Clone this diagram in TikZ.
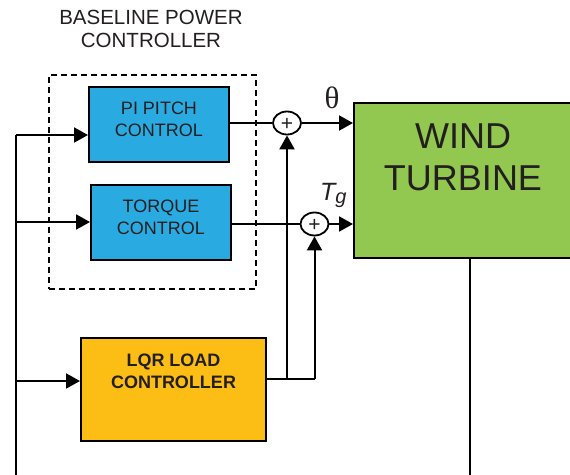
\documentclass[tikz,border=0pt]{standalone}
\usepackage{fontspec}
\setmainfont{Liberation Sans}
\newfontfamily\serifgr{Liberation Serif}
\usetikzlibrary{arrows.meta,shapes.geometric}
\definecolor{bluebox}{RGB}{41,171,226}
\definecolor{greenbox}{RGB}{146,200,80}
\definecolor{yellowbox}{RGB}{252,190,20}
\definecolor{txt}{RGB}{35,31,32}
\tikzset{
  blk/.style={draw=black,line width=2pt,inner sep=0pt},
  lbl/.style={text=txt,align=center,inner sep=0pt,font=\fontsize{18}{22}\selectfont},
  wire/.style={line width=2pt,draw=black},
  arr/.style={wire,-{Triangle[length=14pt,width=15pt]}},
  sumnode/.style={ellipse,draw=black,line width=1.8pt,fill=white,minimum width=28pt,minimum height=23pt,inner sep=0pt},
  plus/.style={text=txt,inner sep=0pt,font=\fontsize{21}{21}\selectfont}
}
\begin{document}
\begin{tikzpicture}[x=1pt,y=-1pt]
\useasboundingbox (0,0) rectangle (570,474);
% title
\node[lbl,font=\fontsize{20.5}{23}\selectfont] (title) at (151,28.5) {BASELINE POWER\\CONTROLLER};
% dashed box
\node[draw=black,line width=1.5pt,dash pattern=on 6pt off 4pt,minimum width=207pt,minimum height=214pt,inner sep=0pt] (base) at (152.5,182) {};
% blocks
\node[blk,fill=bluebox,minimum width=140pt,minimum height=75pt] (pi) at (159,124.5) {};
\node[lbl] (pit) at (159,119) {PI PITCH\\CONTROL};
\node[blk,fill=bluebox,minimum width=140pt,minimum height=75pt] (tq) at (161,222.5) {};
\node[lbl] (tqt) at (161,217) {TORQUE\\CONTROL};
\node[blk,fill=yellowbox,minimum width=185pt,minimum height=103pt] (lqr) at (173.5,389.5) {};
\node[lbl,font=\fontsize{18}{22}\bfseries\selectfont] (lqrt) at (173.5,371) {LQR LOAD\\CONTROLLER};
\node[blk,fill=greenbox,minimum width=220pt,minimum height=155pt] (wt) at (464,180.5) {};
\node[lbl,font=\fontsize{36}{42}\selectfont] (wtt) at (463,157) {WIND\\TURBINE};
% sums
\node[sumnode] (s1) at (287,123) {};
\node[plus] (p1) at (287,124) {+};
\node[sumnode] (s2) at (314.5,224) {};
\node[plus] (p2) at (314.5,225) {+};
% signal labels
\node[text=txt,inner sep=0pt,font=\serifgr\fontsize{31}{31}\selectfont] (th) at (332,98) {θ};
\node[text=txt,inner sep=0pt,anchor=base west,font=\itshape\fontsize{25}{25}\selectfont] (tg) at (320,200) {T\raisebox{-3.5pt}{\fontsize{20}{20}\selectfont g}};
% bus coordinates
\coordinate (btop) at (16,135);
\coordinate (bmid) at (16,222);
\coordinate (blqr) at (16,381);
\coordinate (bbot) at (16,480);
\coordinate (j1) at (287,379);
\coordinate (j2) at (314.5,379);
\coordinate (wout) at (470,480);
% connectors
\draw[wire] (bbot) -- (btop);
\draw[arr] (btop) -- (btop -| pi.west);
\draw[arr] (bmid) -- (bmid -| tq.west);
\draw[arr] (blqr) -- (blqr -| lqr.west);
\draw[wire] (pi.east |- s1) -- (s1.west);
\draw[wire] (tq.east |- s2) -- (s2.west);
\draw[wire] (lqr.east |- j1) -- (j2);
\draw[arr] (j1) -- (s1.south);
\draw[arr] (j2) -- (s2.south);
\draw[arr] (s1.east) -- (s1.east -| wt.west);
\draw[arr] (s2.east) -- (s2.east -| wt.west);
\draw[wire] (wt.south -| wout) -- (wout);
\end{tikzpicture}
\end{document}
